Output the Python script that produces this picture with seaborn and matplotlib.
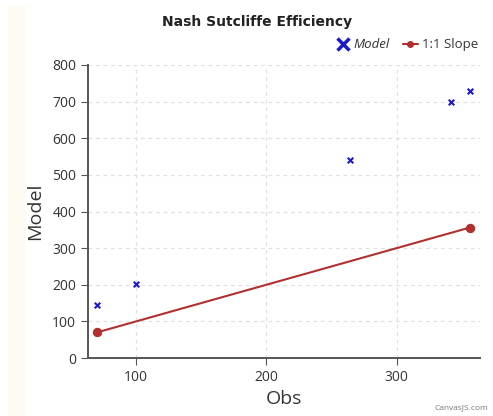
import numpy as np
import pandas as pd
import matplotlib
matplotlib.use('Agg')
import matplotlib.pyplot as plt
import seaborn as sns
from matplotlib.patches import Rectangle
from matplotlib.lines import Line2D

# values
obs = [70, 100, 264, 342, 356]
model = [145, 203, 541, 698, 728]
slope_x = [70, 356]
slope_y = [70, 356]

sns.set_style('white')
plt.rcParams['font.family'] = ['Open Sans', 'DejaVu Sans']

fig = plt.figure(figsize=(4.93, 4.16), dpi=100)
fig.patch.set_facecolor('white')
# cream strip from the screenshot on the left
fig.patches.append(Rectangle((8 / 493, 0), 18 / 493, 1 - 6 / 416, transform=fig.transFigure,
                             facecolor='#fffbf3', edgecolor='none', zorder=0))
ax = fig.add_axes([88 / 493, 58 / 416, 392 / 493, 293 / 416])

df_model = pd.DataFrame({'Obs': obs, 'Model': model})
df_slope = pd.DataFrame({'Obs': slope_x, 'Model': slope_y})

sns.scatterplot(data=df_model, x='Obs', y='Model', marker='x', color='#1a1acc', s=16,
                linewidth=1.5, ax=ax, zorder=3, legend=False)
sns.lineplot(data=df_slope, x='Obs', y='Model', color='#b03030', marker='o', markersize=6,
             markeredgecolor='#b03030', linewidth=1.5, ax=ax, zorder=2, legend=False)

ax.set_xlim(63, 364)
ax.set_ylim(0, 800)
ax.set_xticks([100, 200, 300])
ax.set_yticks(range(0, 801, 100))
ax.grid(True, color='#e0e0e0', linestyle=(0, (3, 3)), linewidth=0.9)
for side in ['top', 'right']:
    ax.spines[side].set_visible(False)
for side in ['left', 'bottom']:
    ax.spines[side].set_color('#555555')
    ax.spines[side].set_linewidth(1.4)
ax.tick_params(axis='both', which='both', direction='out', length=5, color='#555555',
               labelsize=10, labelcolor='#333333', left=True, bottom=True)
ax.set_xlabel('Obs', fontsize=14, color='#333333', labelpad=4)
ax.set_ylabel('Model', fontsize=14, color='#333333', labelpad=6)

handles = [
    Line2D([], [], linestyle='none', marker='x', color='#1a1acc', markersize=9, markeredgewidth=2.5),
    Line2D([], [], color='#b03030', marker='o', markersize=4, linewidth=1.5),
]
leg = ax.legend(handles, ['Model', '1:1 Slope'], ncol=2, loc='lower right',
                bbox_to_anchor=(1.015, 1.02), frameon=False, fontsize=9.5, handlelength=1.1,
                handletextpad=0.3, columnspacing=1.0, borderaxespad=0.2)
for t in leg.get_texts():
    t.set_color('#333333')
leg.get_texts()[0].set_style('italic')

fig.text(257 / 493, 394 / 416, 'Nash Sutcliffe Efficiency', ha='center', va='center',
         fontsize=10, fontweight='heavy', family=['Liberation Sans Narrow', 'DejaVu Sans Condensed', 'DejaVu Sans'],
         color='#222222')
fig.text(488 / 493, 8 / 416, 'CanvasJS.com', ha='right', va='center', fontsize=6,
         color='#777777')

fig.savefig('out.png', dpi=100)
